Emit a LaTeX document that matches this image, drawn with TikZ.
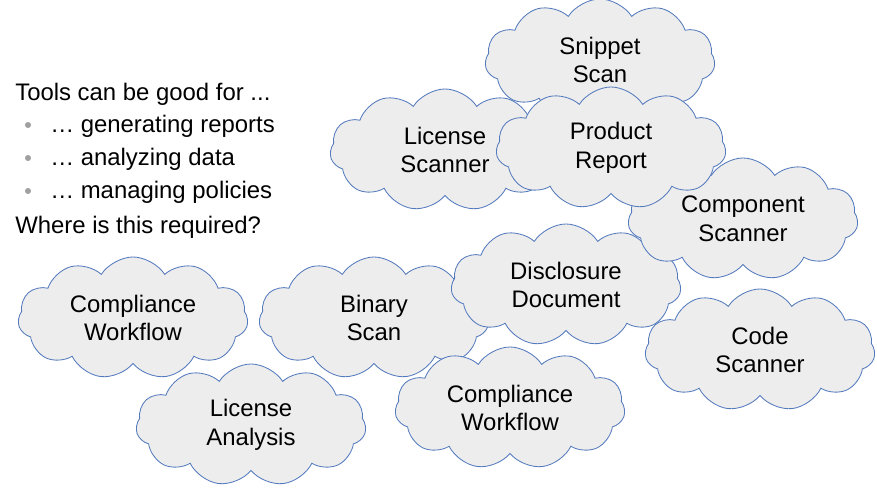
\documentclass[tikz,border=0pt]{standalone}
\usepackage{fontspec}
\setmainfont{Liberation Sans}
\usetikzlibrary{shapes.symbols, positioning}
\definecolor{cloudline}{RGB}{84,122,190}
\definecolor{cloudfill}{RGB}{237,237,237}
\definecolor{bulletgray}{RGB}{160,160,160}

\begin{document}
\begin{tikzpicture}[
    x=0.025cm, y=-0.025cm,
    topic/.style={cloud, cloud puffs=11, cloud puff arc=115, cloud ignores aspect, draw=cloudline, fill=cloudfill, line width=0.6pt, minimum width=5.75cm, minimum height=3.05cm, inner sep=0pt, align=center, font=\fontsize{17}{20.5}\selectfont},
    list_text/.style={anchor=base west, inner sep=0pt, font=\fontsize{17}{20}\selectfont},
    bullet_dot/.style={circle, fill=bulletgray, minimum size=4.3pt, inner sep=0pt}
]
\useasboundingbox (0,0) rectangle (877,488);

% Intro text
\node (intro_node) [list_text] at (15,100) {Tools can be good for ...};
\node (item_a) [list_text] at (50,132) {… generating reports};
\node (item_b) [list_text] at (50,165) {… analyzing data};
\node (item_c) [list_text] at (50,198) {… managing policies};
\node (question_node) [list_text] at (15,233) {Where is this required?};
\node (dot_a) [bullet_dot] at (28,125) {};
\node (dot_b) [bullet_dot] at (28,158) {};
\node (dot_c) [bullet_dot] at (28,191) {};

% Clouds, back to front
\node (snippet_node) [topic] at (600,60) {Snippet\\Scan};
\node (licscan_node) [topic] at (445,150) {License\\Scanner};
\node (binary_node) [topic] at (374,318) {Binary\\Scan};
\node (disclosure_node) [topic] at (566,285) {Disclosure\\Document};
\node (component_node) [topic] at (743,219) {Component\\Scanner};
\node (product_node) [topic] at (611,148) {Product\\Report};
\node (code_node) [topic] at (760,350) {Code\\Scanner};
\node (workflow_left) [topic] at (133,318) {Compliance\\Workflow};
\node (workflow_right) [topic] at (510,408) {Compliance\\Workflow};
\node (analysis_node) [topic] at (251,425) {License\\Analysis};

\end{tikzpicture}
\end{document}
